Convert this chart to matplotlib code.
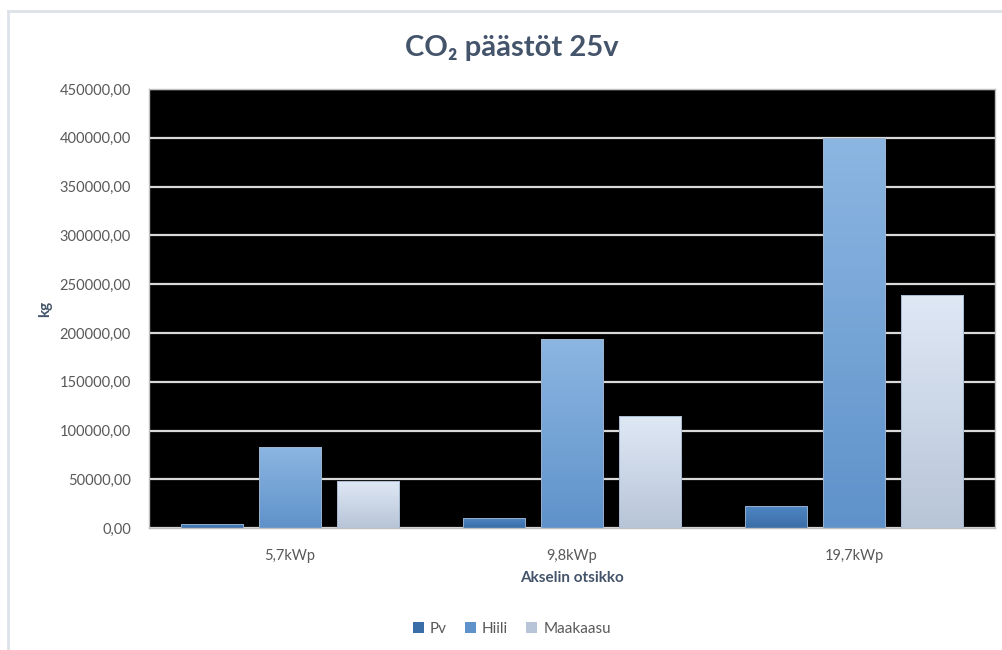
import matplotlib
matplotlib.use('Agg')
import matplotlib.pyplot as plt
import numpy as np
from matplotlib.colors import LinearSegmentedColormap
from matplotlib.ticker import FuncFormatter, MultipleLocator
from matplotlib.lines import Line2D
from matplotlib.patches import Patch

# Emissions over 25 years (kg)
categories = ['5,7kWp', '9,8kWp', '19,7kWp']
series_names = ['Pv', 'Hiili', 'Maakaasu']
pv = [4100, 10900, 22800]
hiili = [83300, 193900, 400000]
maakaasu = [48800, 115000, 239000]

# (top colour, bottom colour) of the gradient fill for each series
GRADIENTS = {
    'Pv': ('#5087c4', '#3a6ea8'),
    'Hiili': ('#8cb6e2', '#5f92ca'),
    'Maakaasu': ('#dfe8f5', '#b8c5d8'),
}
TEXT = '#595959'
TITLE = '#44546a'

plt.rcParams['font.family'] = ['Lato', 'DejaVu Sans']

fig = plt.figure(figsize=(10.03, 6.5), dpi=100)
ax = fig.add_axes([149 / 1003, 1 - 528.3 / 650, (995 - 149) / 1003, (528.3 - 89) / 650])
ax.set_facecolor('black')

x = np.arange(len(categories))
width = 0.22
step = 0.277
values = [pv, hiili, maakaasu]

for i, (name, vals) in enumerate(zip(series_names, values)):
    bars = ax.bar(x + (i - 1) * step, vals, width=width, zorder=3,
                  color='none', edgecolor='#9fb3cc', linewidth=0.6)
    top, bottom = GRADIENTS[name]
    cmap = LinearSegmentedColormap.from_list(name, [bottom, top])
    grad = np.linspace(0, 1, 256).reshape(-1, 1)
    for b in bars:
        x0, y0 = b.get_x(), b.get_y()
        im = ax.imshow(grad, cmap=cmap, origin='lower', aspect='auto',
                       extent=[x0, x0 + b.get_width(), y0, y0 + b.get_height()],
                       zorder=2.5)
        im.set_clip_path(b)

ax.set_xlim(-0.5, len(categories) - 0.5)
ax.set_ylim(0, 450000)
ax.yaxis.set_major_locator(MultipleLocator(50000))
ax.yaxis.set_major_formatter(FuncFormatter(lambda v, _: f'{v:.2f}'.replace('.', ',')))
ax.grid(axis='y', color='#d9d9d9', linewidth=1.6, zorder=1)
ax.set_axisbelow(True)

ax.set_xticks(x)
ax.set_xticklabels(categories)
ax.tick_params(axis='both', length=0, labelsize=10.5, colors=TEXT)
ax.tick_params(axis='y', pad=13)
ax.tick_params(axis='x', pad=15)
for s in ax.spines.values():
    s.set_color('#bfbfbf')
    s.set_linewidth(1.0)

ax.set_xlabel('Akselin otsikko', fontsize=11, fontweight='bold', color=TITLE)
ax.xaxis.set_label_coords(0.5, (528.3 - 578) / 439.3)
ax.set_ylabel('kg', fontsize=11, fontweight='bold', color=TITLE)
ax.yaxis.set_label_coords((45 - 149) / 846, 0.5)
ax.yaxis.label.set_va('center')
ax.xaxis.label.set_va('center')

fig.text(512 / 1003, 1 - 48 / 650, 'CO₂ päästöt 25v', ha='center', va='center',
         fontsize=21, fontweight='bold', color=TITLE)

handles = [Patch(facecolor=GRADIENTS[n][1], edgecolor='none') for n in series_names]
leg = fig.legend(handles, series_names, loc='center', bbox_to_anchor=(512 / 1003, 1 - 629 / 650),
                 ncol=3, frameon=False, fontsize=11, handlelength=0.7, handleheight=0.7,
                 handletextpad=0.4, columnspacing=1.2)
for t in leg.get_texts():
    t.set_color(TEXT)

# chart area border (left and top edges)
fig.add_artist(Line2D([8 / 1003, 8 / 1003], [0, 1 - 11 / 650], transform=fig.transFigure,
                      color='#dde2ea', linewidth=2))
fig.add_artist(Line2D([8 / 1003, 1], [1 - 11 / 650, 1 - 11 / 650], transform=fig.transFigure,
                      color='#dde2ea', linewidth=2))

fig.savefig('out.png', dpi=100, facecolor='white')
